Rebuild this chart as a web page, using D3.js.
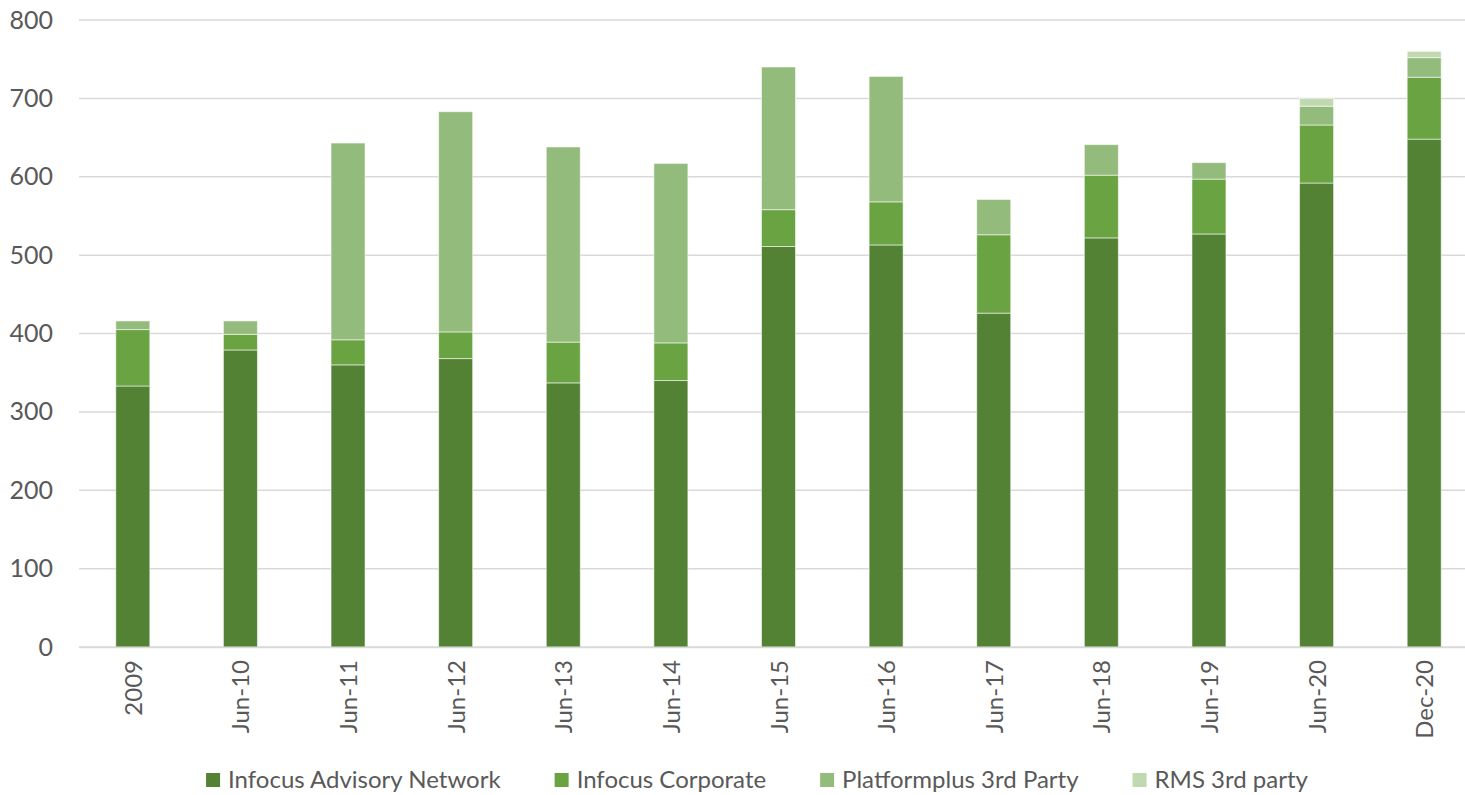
<!DOCTYPE html>
<html><head><meta charset="utf-8">
<script src="https://cdn.jsdelivr.net/npm/d3@7"></script>
<style>body{margin:0;background:#fff}svg{display:block}</style>
</head><body><svg id="c" width="1465" height="795"></svg>
<script>
const categories = ["2009","Jun-10","Jun-11","Jun-12","Jun-13","Jun-14","Jun-15","Jun-16","Jun-17","Jun-18","Jun-19","Jun-20","Dec-20"];
const seriesNames = ["Infocus Advisory Network","Infocus Corporate","Platformplus 3rd Party","RMS 3rd party"];
const advisory  = [333,379,360,368,337,340,511,513,426,522,527,592,648];
const corporate = [72,20,32,34,52,48,47,55,100,80,70,74,79];
const platform  = [11,17,251,281,249,229,182,160,45,39,21,24,25];
const rms       = [0,0,0,0,0,0,0,0,0,0,0,10,8];
const yTicks = [0,100,200,300,400,500,600,700,800];
const colors = ["#548235","#6aa342","#93bb7b","#c0d9b0"];

const svg = d3.select("#c");
const font = "Lato, 'Open Sans', sans-serif";
const m = {left:79, right:1478, top:20, bottom:647};

const data = categories.map((c,i)=>({cat:c, s0:advisory[i], s1:corporate[i], s2:platform[i], s3:rms[i]}));
const stack = d3.stack().keys(["s0","s1","s2","s3"])(data);

const x = d3.scaleBand().domain(categories).range([m.left,m.right]).paddingInner(0.684).paddingOuter(0.342);
const y = d3.scaleLinear().domain([0,800]).range([m.bottom,m.top]);

// gridlines
svg.append("g").selectAll("line").data(yTicks).join("line")
  .attr("x1",m.left).attr("x2",m.right)
  .attr("y1",d=>y(d)).attr("y2",d=>y(d))
  .attr("stroke","#d9d9d9").attr("stroke-width",1.5);

// y axis labels
const yAxis = d3.axisLeft(y).tickValues(yTicks).tickSize(0).tickPadding(26);
const ga = svg.append("g").attr("transform",`translate(${m.left},0)`).call(yAxis);
ga.select(".domain").remove();
ga.selectAll("text").attr("font-family",font).attr("font-size",25).attr("fill","#595959");

// bars
svg.append("g").selectAll("g").data(stack).join("g")
  .attr("fill",(d,i)=>colors[i])
  .selectAll("rect").data(d=>d.filter(v=>v[1]-v[0]>0)).join("rect")
  .attr("x",d=>x(d.data.cat)).attr("width",x.bandwidth())
  .attr("y",d=>y(d[1])).attr("height",d=>y(d[0])-y(d[1]))
  .attr("stroke","#ffffff").attr("stroke-opacity",0.55).attr("stroke-width",1);

// x axis
const xAxis = d3.axisBottom(x).tickSize(0).tickPadding(0);
const gx = svg.append("g").attr("transform",`translate(0,${m.bottom})`).call(xAxis);
gx.select(".domain").attr("stroke","#d9d9d9").attr("stroke-width",1.5);
gx.selectAll("text").attr("font-family",font).attr("font-size",24).attr("fill","#595959")
  .attr("text-anchor","end").attr("dy",null)
  .attr("transform","translate(9,13) rotate(-90)");

// legend
const lg = svg.append("g");
const gap = 54;
let lx = 0;
seriesNames.forEach((n,i)=>{
  const g = lg.append("g").attr("transform",`translate(${lx},0)`);
  g.append("rect").attr("x",0).attr("y",-14).attr("width",14).attr("height",14).attr("fill",colors[i]);
  const t = g.append("text").attr("x",22).attr("y",1).attr("font-family",font).attr("font-size",24).attr("fill","#595959").text(n);
  const w = t.node().getComputedTextLength();
  lx += 22 + w + gap;
});
const totalW = lx - gap;
lg.attr("transform",`translate(${757-totalW/2},787)`);
</script></body></html>
